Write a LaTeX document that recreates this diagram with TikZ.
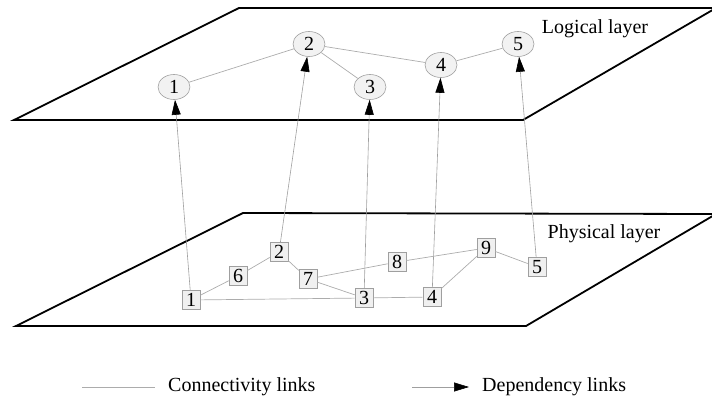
\documentclass[tikz,border=0pt]{standalone}
\usepackage{fontspec}
\setmainfont{Liberation Serif}
\usetikzlibrary{shapes.geometric,arrows.meta}
\tikzset{
  plane/.style={line width=1.8pt, line join=miter},
  lnode/.style={ellipse, draw=gray!75, fill=gray!10, line width=0.6pt, minimum width=32pt, minimum height=25pt, inner sep=0pt, font=\fontsize{20}{24}\selectfont},
  pnode/.style={rectangle, draw=gray!75, fill=gray!12, line width=0.6pt, minimum width=18pt, minimum height=19pt, inner sep=0pt, font=\fontsize{20}{24}\selectfont},
  conn/.style={draw=gray!65, line width=0.7pt},
  dep/.style={draw=gray!75, line width=0.6pt, -{Triangle[length=15pt,width=9pt,color=black]}},
  lbl/.style={font=\fontsize{20}{24}\selectfont, inner sep=0pt}
}
\begin{document}
\begin{tikzpicture}[x=1pt,y=-1pt]
\useasboundingbox (0,0) rectangle (712,399);
\begin{scope}
\clip (0,0) rectangle (712,399);
% planes
\draw[plane] (239,8) -- (716,8) -- (523,120) -- (14,120) -- cycle;
\draw[plane] (243,213) -- (716,214) -- (526,326) -- (16,326) -- cycle;
\end{scope}
\node[lbl] (ltxt) at (595,29) {Logical layer};
\node[lbl] (ptxt) at (604,234) {Physical layer};
% logical nodes
\node[lnode] (l1) at (174,87) {1};
\node[lnode] (l2) at (309,44) {2};
\node[lnode] (l3) at (370,87) {3};
\node[lnode] (l4) at (441,65) {4};
\node[lnode] (l5) at (518,44) {5};
% physical nodes
\node[pnode] (p1) at (191,300) {1};
\node[pnode] (p6) at (238,276) {6};
\node[pnode] (p2) at (279,252) {2};
\node[pnode] (p7) at (308,279) {7};
\node[pnode] (p8) at (397,262) {8};
\node[pnode] (p9) at (486,248) {9};
\node[pnode] (p5) at (537,267) {5};
\node[pnode] (p3) at (364,298) {3};
\node[pnode] (p4) at (432,297) {4};
% connectivity links
\draw[conn] (l1) -- (l2);
\draw[conn] (l2) -- (l3);
\draw[conn] (l2) -- (l4);
\draw[conn] (l4) -- (l5);
\draw[conn] (p1) -- (p6);
\draw[conn] (p6) -- (p2);
\draw[conn] (p2) -- (p7);
\draw[conn] (p7) -- (p8);
\draw[conn] (p8) -- (p9);
\draw[conn] (p9) -- (p5);
\draw[conn] (p7) -- (p3);
\draw[conn] (p1) -- (p3);
\draw[conn] (p3) -- (p4);
\draw[conn] (p4) -- (p9);
% dependency links
\draw[dep] (p1) -- (l1);
\draw[dep] (p2) -- (l2);
\draw[dep] (p3) -- (l3);
\draw[dep] (p4) -- (l4);
\draw[dep] (p5) -- (l5);
% legend
\coordinate (c1) at (82,387);
\coordinate (c2) at (155,387);
\node[lbl, anchor=west] (ctxt) at (168,387) {Connectivity links};
\draw[conn] (c1) -- (c2);
\coordinate (d1) at (412,387);
\coordinate (d2) at (469,387);
\node[lbl, anchor=west] (dtxt) at (482,387) {Dependency links};
\draw[dep] (d1) -- (d2);
\end{tikzpicture}
\end{document}
